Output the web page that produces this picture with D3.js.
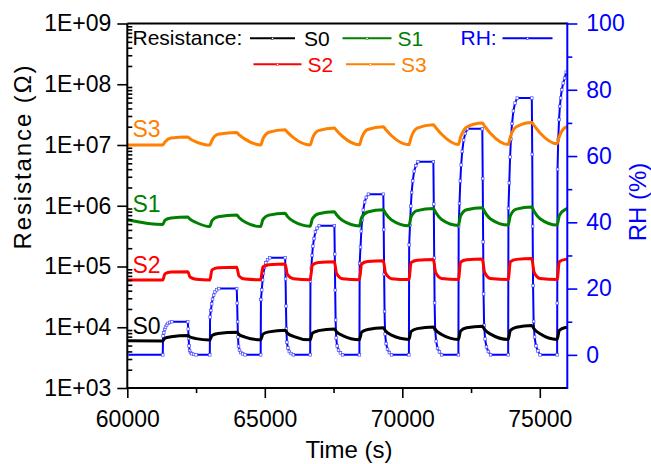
<!DOCTYPE html>
<html>
<head>
<meta charset="utf-8">
<script src="https://cdn.jsdelivr.net/npm/d3@7"></script>
<style>
  body { margin: 0; background: #fff; }
  svg text { font-family: "Liberation Sans", Arial, sans-serif; }
</style>
</head>
<body>
<div id="chart"></div>
<script>
// time stamps shared by the four resistance curves (s)
const timeR = [60000,
  61290, 61370, 61590, 62200, 62280, 62500,
  63000, 63080, 63300, 63980, 64060, 64280,
  64850, 64930, 65150, 65740, 65820, 66040,
  66650, 66730, 66950, 67530, 67610, 67830,
  68440, 68520, 68740, 69310, 69390, 69610,
  70240, 70320, 70540, 71130, 71210, 71430,
  72040, 72120, 72340, 72910, 72990, 73210,
  73850, 73930, 74150, 74710, 74790, 75010,
  75630, 75710, 75930, 76000];

const s0 = [6000,
  5950, 6600, 6950, 7300, 6900, 6500,
  6150, 7300, 7900, 8300, 7600, 6900,
  6200, 7700, 8400, 8900, 8000, 7100,
  6200, 8000, 8800, 9400, 8400, 7300,
  6250, 8300, 9200, 9800, 8700, 7400,
  6300, 8500, 9500, 10100, 9000, 7600,
  6300, 8700, 9800, 10400, 9200, 7700,
  6300, 8900, 10000, 10700, 9400, 7800,
  6300, 8900, 9900, 10000];

const s1 = [590000,
  490000, 580000, 630000, 650000, 600000, 530000,
  455000, 570000, 660000, 706000, 640000, 540000,
  455000, 590000, 700000, 753000, 670000, 555000,
  460000, 610000, 740000, 800000, 710000, 570000,
  465000, 640000, 790000, 860000, 750000, 585000,
  470000, 660000, 830000, 900000, 780000, 595000,
  475000, 680000, 860000, 930000, 800000, 605000,
  480000, 690000, 880000, 950000, 810000, 610000,
  480000, 690000, 870000, 890000];

const s2 = [60000,
  60000, 76000, 81000, 82000, 67000, 61500,
  60000, 88000, 95000, 97000, 70000, 62000,
  60500, 98000, 107000, 110000, 74000, 63000,
  60500, 106000, 116000, 120000, 77000, 63000,
  60500, 110000, 121000, 124000, 78000, 63000,
  61000, 116000, 127000, 131000, 80000, 63500,
  61000, 118000, 129000, 133000, 81000, 63500,
  61000, 120000, 131000, 135000, 81000, 63500,
  61000, 120000, 131000, 132000];

const s3 = [1.0e7,
  1.0e7, 1.12e7, 1.30e7, 1.35e7, 1.27e7, 1.13e7,
  1.0e7, 1.20e7, 1.50e7, 1.60e7, 1.48e7, 1.25e7,
  1.0e7, 1.25e7, 1.62e7, 1.78e7, 1.63e7, 1.32e7,
  1.0e7, 1.28e7, 1.72e7, 1.90e7, 1.73e7, 1.38e7,
  1.01e7, 1.30e7, 1.80e7, 2.00e7, 1.82e7, 1.42e7,
  1.01e7, 1.33e7, 1.90e7, 2.16e7, 1.95e7, 1.50e7,
  1.02e7, 1.35e7, 1.98e7, 2.30e7, 2.06e7, 1.55e7,
  1.02e7, 1.37e7, 2.00e7, 2.34e7, 2.10e7, 1.58e7,
  1.05e7, 1.38e7, 1.95e7, 2.00e7];

// relative humidity [time, RH %]
const rhPoints = [[60000, 0],
  [61290,0],[61300,5.7],[61330,6.7],[61360,7.7],[61390,8.4],[61430,9.0],[61480,9.5],[61540,9.8],[61620,10],
  [62200,10],[62215,7.8],[62230,5],[62245,2.7],[62265,1.3],[62300,0.7],[62350,0.35],[62420,0.15],[62500,0],
  [63000,0],[63010,11.4],[63040,13.4],[63070,15.4],[63100,16.8],[63140,18],[63190,19],[63250,19.6],[63330,20],
  [63980,20],[63995,15.6],[64010,10],[64025,5.4],[64045,2.6],[64080,1.4],[64130,0.7],[64200,0.3],[64280,0],
  [64850,0],[64860,16.7],[64890,19.6],[64920,22.6],[64950,24.6],[64990,26.4],[65040,27.8],[65100,28.7],[65180,29.3],
  [65740,29.3],[65755,22.9],[65770,14.7],[65785,7.9],[65805,3.8],[65840,2.1],[65890,1.0],[65960,0.4],[66040,0],
  [66650,0],[66660,22.2],[66690,26.1],[66720,30.0],[66750,32.8],[66790,35.1],[66840,37.1],[66900,38.2],[66980,39],
  [67530,39],[67545,30.4],[67560,19.5],[67575,10.5],[67595,5.1],[67630,2.7],[67680,1.4],[67750,0.6],[67830,0],
  [68440,0],[68450,27.6],[68480,32.5],[68510,37.3],[68540,40.7],[68580,43.7],[68630,46.1],[68690,47.5],[68770,48.5],
  [69310,48.5],[69325,37.8],[69340,24.3],[69355,13.1],[69375,6.3],[69410,3.4],[69460,1.7],[69530,0.7],[69610,0],
  [70240,0],[70250,33.2],[70280,39.1],[70310,44.9],[70340,49.0],[70380,52.5],[70430,55.4],[70490,57.1],[70570,58.3],
  [71130,58.3],[71145,45.5],[71160,29.2],[71175,15.7],[71195,7.6],[71230,4.1],[71280,2.0],[71350,0.9],[71430,0],
  [72040,0],[72050,38.9],[72080,45.7],[72110,52.5],[72140,57.3],[72180,61.4],[72230,64.8],[72290,66.8],[72370,68.2],
  [72910,68.2],[72925,53.2],[72940,34.1],[72955,18.4],[72975,8.9],[73010,4.8],[73060,2.4],[73130,1.0],[73210,0],
  [73850,0],[73860,44.2],[73890,51.9],[73920,59.7],[73950,65.1],[73990,69.8],[74040,73.6],[74100,76.0],[74180,77.5],
  [74710,77.5],[74725,60.5],[74740,38.8],[74755,20.9],[74775,10.1],[74810,5.4],[74860,2.7],[74930,1.2],[75010,0],
  [75630,0],[75635,15.6],[75645,56],[75670,65],[75700,71],[75730,75],[75760,77.5],[75800,80],[75850,82],[75900,83.5],[75960,85.3]];

const seriesNames = ['S0', 'S1', 'S2', 'S3'];
const xTicks = [60000, 65000, 70000, 75000];
const xMinor = [62500, 67500, 72500];
const yTicks = [1e3, 1e4, 1e5, 1e6, 1e7, 1e8, 1e9];
const rhTicks = [0, 20, 40, 60, 80, 100];
const rhMinor = [10, 30, 50, 70, 90];

const colors = {S0: '#000000', S1: '#008000', S2: '#ff0000', S3: '#ff8000', RH: '#0000ff'};
const values = {S0: s0, S1: s1, S2: s2, S3: s3};

const width = 651, height = 464;
const L = 127.3, R = 567.3, T = 23.5, B = 388;

const svg = d3.select('#chart').append('svg')
  .attr('width', width).attr('height', height);

const x = d3.scaleLinear().domain([60000, 76000]).range([L, R]);
const y = d3.scaleLog().domain([1e3, 1e9]).range([B, T]);
const yRH = d3.scaleLinear().domain([-10, 100]).range([B, T]);

svg.append('clipPath').attr('id', 'plot')
  .append('rect').attr('x', L).attr('y', T).attr('width', R - L).attr('height', B - T);

// RH first, resistance curves on top
const rhLine = d3.line().x(d => x(d[0])).y(d => yRH(d[1]));
const gData = svg.append('g').attr('clip-path', 'url(#plot)');
gData.append('path').datum(rhPoints)
  .attr('fill', 'none').attr('stroke', colors.RH).attr('stroke-width', 2)
  .attr('d', rhLine);
gData.selectAll('rect.rhpt').data(rhPoints).enter().append('rect')
  .attr('class', 'rhpt')
  .attr('x', d => x(d[0]) - 1.3).attr('y', d => yRH(d[1]) - 1.3)
  .attr('width', 2.6).attr('height', 2.6)
  .attr('fill', '#ffffff').attr('stroke', '#5050ff').attr('stroke-width', 0.7);

const rLine = d3.line().x((d, i) => x(timeR[i])).y(d => y(d)).curve(d3.curveMonotoneX);
seriesNames.forEach(function(name) {
  gData.append('path').datum(values[name])
    .attr('fill', 'none').attr('stroke', colors[name]).attr('stroke-width', 3)
    .attr('stroke-linejoin', 'round')
    .attr('d', rLine);
});

// axes
function styleAxis(g, color, size) {
  g.select('.domain').remove();
  g.selectAll('line').attr('stroke', color).attr('stroke-width', 1.6);
  g.selectAll('text').attr('fill', color).attr('font-size', size)
    .attr('font-family', '"Liberation Sans", Arial, sans-serif');
}

const logMinor = y.ticks().filter(d => yTicks.indexOf(d) < 0);
const gLeft = svg.append('g').attr('transform', `translate(${L},0)`)
  .call(d3.axisLeft(y).tickValues(yTicks).tickSize(10).tickPadding(6)
    .tickFormat(d => '1E+' + String(Math.round(Math.log10(d))).padStart(2, '0')));
styleAxis(gLeft, '#000', 23);
const gLeftMinor = svg.append('g').attr('transform', `translate(${L},0)`)
  .call(d3.axisLeft(y).tickValues(logMinor).tickSize(-5).tickFormat(''));
styleAxis(gLeftMinor, '#000', 23);

const gBottom = svg.append('g').attr('transform', `translate(0,${B})`)
  .call(d3.axisBottom(x).tickValues(xTicks).tickSize(10).tickPadding(13).tickFormat(d3.format('d')));
styleAxis(gBottom, '#000', 23);
const gBottomMinor = svg.append('g').attr('transform', `translate(0,${B})`)
  .call(d3.axisBottom(x).tickValues(xMinor).tickSize(5).tickFormat(''));
styleAxis(gBottomMinor, '#000', 23);

const gRight = svg.append('g').attr('transform', `translate(${R},0)`)
  .call(d3.axisRight(yRH).tickValues(rhTicks).tickSize(10).tickPadding(9));
styleAxis(gRight, colors.RH, 23);
const gRightMinor = svg.append('g').attr('transform', `translate(${R},0)`)
  .call(d3.axisRight(yRH).tickValues(rhMinor).tickSize(5).tickFormat(''));
styleAxis(gRightMinor, colors.RH, 23);

// frame
svg.append('line').attr('x1', L).attr('x2', R).attr('y1', T).attr('y2', T).attr('stroke', '#000').attr('stroke-width', 2);
svg.append('line').attr('x1', L).attr('x2', R).attr('y1', B).attr('y2', B).attr('stroke', '#000').attr('stroke-width', 2);
svg.append('line').attr('x1', L).attr('x2', L).attr('y1', T).attr('y2', B).attr('stroke', '#000').attr('stroke-width', 2);
svg.append('line').attr('x1', R).attr('x2', R).attr('y1', T - 1).attr('y2', B + 1).attr('stroke', colors.RH).attr('stroke-width', 2);

// axis titles
svg.append('text').attr('x', 349).attr('y', 458).attr('text-anchor', 'middle')
  .attr('font-size', 24).text('Time (s)');
svg.append('text').attr('transform', 'translate(31,157.5) rotate(-90)').attr('text-anchor', 'middle')
  .attr('font-size', 24).attr('textLength', 184).attr('lengthAdjust', 'spacing')
  .text('Resistance (Ω)');
svg.append('text').attr('transform', 'translate(646,202) rotate(-90)').attr('text-anchor', 'middle')
  .attr('font-size', 24).attr('fill', colors.RH).text('RH (%)');

// curve labels inside the plot
const labelY = {S3: 136.5, S1: 211.5, S2: 273, S0: 334};
seriesNames.forEach(function(name) {
  svg.append('text').attr('x', 132.5).attr('y', labelY[name])
    .attr('font-size', 23).attr('fill', colors[name]).text(name);
});

// legend
const lg = svg.append('g').attr('font-size', 21);
lg.append('text').attr('x', 132.5).attr('y', 45).text('Resistance:');
const legendItems = [
  {name: 'S0', x1: 250, x2: 295, ty: 38.3, tx: 304, label: 'S0'},
  {name: 'S1', x1: 342.5, x2: 391.5, ty: 38.3, tx: 397.5, label: 'S1'},
  {name: 'RH', x1: 502.5, x2: 552.5, ty: 38.3, tx: null, label: ''},
  {name: 'S2', x1: 253.5, x2: 301.5, ty: 64.3, tx: 307.5, label: 'S2'},
  {name: 'S3', x1: 346, x2: 395, ty: 64.3, tx: 401, label: 'S3'}
];
legendItems.forEach(function(d) {
  lg.append('line').attr('x1', d.x1).attr('x2', d.x2).attr('y1', d.ty).attr('y2', d.ty)
    .attr('stroke', colors[d.name]).attr('stroke-width', 2);
  lg.append('rect').attr('x', (d.x1 + d.x2) / 2 - 1).attr('y', d.ty - 1).attr('width', 2).attr('height', 2)
    .attr('fill', '#ffffff').attr('stroke', colors[d.name]).attr('stroke-width', 0.5);
  if (d.tx !== null) {
    lg.append('text').attr('x', d.tx).attr('y', d.ty + 7.2).attr('fill', colors[d.name]).text(d.label);
  }
});
lg.append('text').attr('x', 460.5).attr('y', 45).attr('fill', colors.RH).text('RH:');
</script>
</body>
</html>
